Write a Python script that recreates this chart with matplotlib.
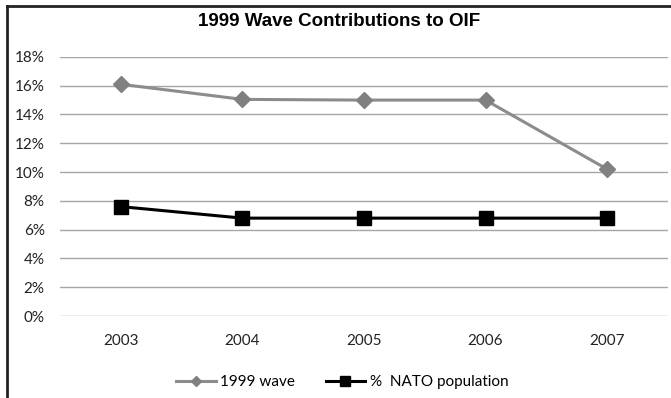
import matplotlib.pyplot as plt
from matplotlib.lines import Line2D
from matplotlib.ticker import FuncFormatter

# values (percent)
years = ['2003', '2004', '2005', '2006', '2007']
wave_1999 = [16.1, 15.05, 15.0, 15.0, 10.2]
nato_pop = [7.6, 6.8, 6.8, 6.8, 6.8]
y_ticks = [0, 2, 4, 6, 8, 10, 12, 14, 16, 18]

fig = plt.figure(figsize=(6.71, 3.98), dpi=100)
ax = fig.add_axes([0.0894, 0.206, 0.906, 0.651])

x = list(range(len(years)))
ax.plot(x, wave_1999, color='#8c8c8c', linewidth=2.2, marker='D', markersize=8,
        markerfacecolor='#808080', markeredgecolor='#808080', label='1999 wave', zorder=3)
ax.plot(x, nato_pop, color='black', linewidth=2.2, marker='s', markersize=10,
        label='%  NATO population', zorder=3)

ax.set_xlim(-0.5, len(years) - 0.5)
ax.set_ylim(0, 18)
ax.set_yticks(y_ticks)
ax.yaxis.set_major_formatter(FuncFormatter(lambda v, p: f'{v:.0f}%'))
ax.set_xticks(x)
ax.set_xticklabels(years)
ax.grid(axis='y', color='#a6a6a6', linewidth=1)
ax.set_axisbelow(True)
for s in ax.spines.values():
    s.set_visible(False)
ax.tick_params(axis='both', length=0, labelsize=11, colors='#222222')
ax.tick_params(axis='y', pad=11)
ax.tick_params(axis='x', pad=13)
for lbl in ax.get_xticklabels() + ax.get_yticklabels():
    lbl.set_family('Lato')

fig.text(0.505, 0.945, '1999 Wave Contributions to OIF', ha='center', va='center',
         fontsize=13.5, fontweight='bold', family='Liberation Sans')

leg = fig.legend(loc='center', bbox_to_anchor=(0.51, 0.04), ncol=2, frameon=False,
                 prop={'family': 'Lato', 'size': 11}, handlelength=2.6,
                 columnspacing=2.0, handletextpad=0.3, markerscale=0.65)

# chart frame (top and left edges visible)
fig.add_artist(Line2D([0.0105, 1.0], [0.984, 0.984], transform=fig.transFigure,
                      color='#222222', linewidth=2))
fig.add_artist(Line2D([0.0105, 0.0105], [0.0, 0.984], transform=fig.transFigure,
                      color='#222222', linewidth=2))

fig.savefig('out.png', dpi=100)
